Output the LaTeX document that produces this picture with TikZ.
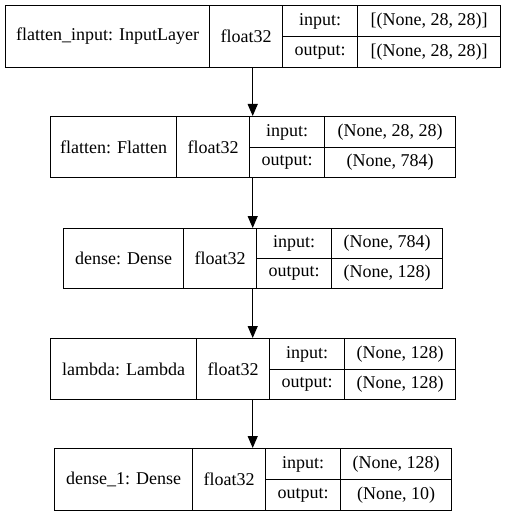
\documentclass[tikz,border=0pt]{standalone}
\usepackage{fontspec}
\setmainfont{Liberation Serif}
\usetikzlibrary{arrows.meta}

\tikzset{
  cell/.style={draw, line width=1.2pt, anchor=north west, inner sep=0pt,
    font=\fontsize{18}{20}\selectfont},
  layerbox/.style={anchor=north west, inner sep=0pt},
}

\begin{document}
\begin{tikzpicture}[x=1pt,y=-1pt,>={Triangle[length=12pt,width=10pt]}]
\useasboundingbox (0,0) rectangle (505,516);

% one row of cells per layer
\foreach \id/\ya/\ym/\yb/\xa/\xb/\xc/\xd/\xe/\lname/\lin/\lout in {
  1/5/36/67/5/209/282/357/500/{flatten\_input: InputLayer}/{[(None, 28, 28)]}/{[(None, 28, 28)]},
  2/116/147/177/50/176/249/324/455/{flatten: Flatten}/{(None, 28, 28)}/{(None, 784)},
  3/228/258/288/63/183/256/331/442/{dense: Dense}/{(None, 784)}/{(None, 128)},
  4/338/369/399/50/196/269/344/455/{lambda: Lambda}/{(None, 128)}/{(None, 128)},
  5/448/479/510/54/192/265/340/451/{dense\_1: Dense}/{(None, 128)}/{(None, 10)}}
{
  \node[layerbox, minimum width={(\xe-\xa)*1pt}, minimum height={(\yb-\ya)*1pt}] (layer\id) at (\xa,\ya) {};
  \node[cell, minimum width={(\xb-\xa)*1pt}, minimum height={(\yb-\ya)*1pt}] (name\id) at (\xa,\ya) {\lname};
  \node[cell, minimum width={(\xc-\xb)*1pt}, minimum height={(\yb-\ya)*1pt}] (type\id) at (\xb,\ya) {float32};
  \node[cell, minimum width={(\xd-\xc)*1pt}, minimum height={(\ym-\ya)*1pt}] (inkey\id) at (\xc,\ya) {input:};
  \node[cell, minimum width={(\xe-\xd)*1pt}, minimum height={(\ym-\ya)*1pt}] (inval\id) at (\xd,\ya) {\lin};
  \node[cell, minimum width={(\xd-\xc)*1pt}, minimum height={(\yb-\ym)*1pt}] (outkey\id) at (\xc,\ym) {output:};
  \node[cell, minimum width={(\xe-\xd)*1pt}, minimum height={(\yb-\ym)*1pt}] (outval\id) at (\xd,\ym) {\lout};
}

\draw[->,line width=1.2pt] (layer1.south) -- (layer2.north);
\draw[->,line width=1.2pt] (layer2.south) -- (layer3.north);
\draw[->,line width=1.2pt] (layer3.south) -- (layer4.north);
\draw[->,line width=1.2pt] (layer4.south) -- (layer5.north);
\end{tikzpicture}
\end{document}
